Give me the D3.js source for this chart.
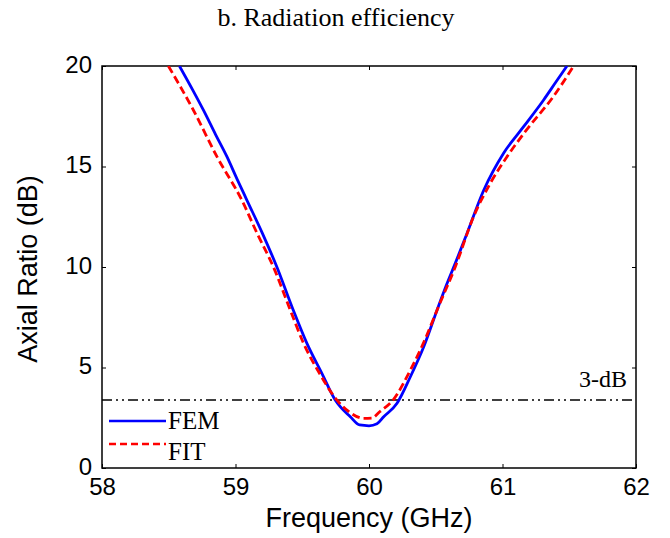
<!DOCTYPE html>
<html>
<head>
<meta charset="utf-8">
<script src="https://cdn.jsdelivr.net/npm/d3@7"></script>
<style>
  body { margin: 0; background: #fff; }
  svg { display: block; }
</style>
</head>
<body>
<svg id="chart" width="670" height="538"></svg>
<script>
// axial ratio readings (GHz, dB)
const femFreq = [58.58, 58.68, 58.76, 58.85, 58.935, 59.01, 59.085, 59.2, 59.31, 59.43, 59.535, 59.647, 59.747, 59.86, 59.93, 60.0, 60.06, 60.11, 60.21, 60.31, 60.41, 60.51, 60.58, 60.646, 60.734, 60.86, 61.008, 61.158, 61.308, 61.4, 61.483];
const femAR   = [20.0, 18.8, 17.8, 16.6, 15.5, 14.4, 13.33, 11.7, 10.0, 7.9, 6.2, 4.71, 3.38, 2.55, 2.14, 2.1, 2.2, 2.55, 3.22, 4.54, 6.03, 7.86, 9.1, 10.18, 11.67, 13.83, 15.66, 16.98, 18.31, 19.2, 20.0];
const fitFreq = [58.497, 58.685, 58.86, 59.047, 59.16, 59.284, 59.41, 59.51, 59.63, 59.76, 59.86, 59.96, 60.02, 60.08, 60.18, 60.31, 60.42, 60.52, 60.646, 60.783, 60.908, 61.034, 61.18, 61.38, 61.533];
const fitAR   = [20.0, 17.8, 15.5, 13.33, 11.7, 10.0, 7.86, 6.2, 4.7, 3.38, 2.75, 2.47, 2.48, 2.8, 3.38, 4.87, 6.4, 8.02, 10.0, 12.5, 14.16, 15.49, 16.82, 18.47, 20.0];
const threshold = 3.38;
const xTicks = [58, 59, 60, 61, 62];
const yTicks = [0, 5, 10, 15, 20];

const svg = d3.select("#chart");
const mLeft = 102, mRight = 636, mTop = 66, mBottom = 468;

const x = d3.scaleLinear().domain([58, 62]).range([mLeft, mRight]);
const y = d3.scaleLinear().domain([0, 20]).range([mBottom, mTop]);

svg.append("defs").append("clipPath").attr("id", "clip")
  .append("rect").attr("x", mLeft).attr("y", mTop).attr("width", mRight - mLeft).attr("height", mBottom - mTop);

// title
const serif = "Liberation Serif, Times New Roman, serif";
svg.append("text").attr("x", 336).attr("y", 26).attr("text-anchor", "middle")
  .style("font-family", serif).style("font-size", "26px")
  .text("b. Radiation efficiency");

// axes (ticks inward, matlab style)
const sans = "Liberation Sans, Arial, sans-serif";
function styleAxis(g) {
  g.select(".domain").remove();
  g.selectAll(".tick line").attr("stroke", "#000").attr("stroke-width", 1);
  g.selectAll(".tick text").style("font-family", sans).style("font-size", "24px").attr("fill", "#000");
}
svg.append("g").attr("transform", `translate(0,${mBottom})`)
  .call(d3.axisBottom(x).tickValues(xTicks).tickSize(-4).tickPadding(10).tickFormat(d3.format("d")))
  .call(styleAxis);
svg.append("g").attr("transform", `translate(0,${mTop})`)
  .call(d3.axisTop(x).tickValues(xTicks).tickSize(-4).tickFormat(""))
  .call(styleAxis);
svg.append("g").attr("transform", `translate(${mLeft},0)`)
  .call(d3.axisLeft(y).tickValues(yTicks).tickSize(-4).tickPadding(10).tickFormat(d3.format("d")))
  .call(styleAxis)
  .call(g => g.selectAll(".tick text").attr("dy", "0.26em"));
svg.append("g").attr("transform", `translate(${mRight},0)`)
  .call(d3.axisRight(y).tickValues(yTicks).tickSize(-4).tickFormat(""))
  .call(styleAxis);

svg.append("rect").attr("x", mLeft).attr("y", mTop).attr("width", mRight - mLeft).attr("height", mBottom - mTop)
  .attr("fill", "none").attr("stroke", "#000").attr("stroke-width", 1.5);

// axis labels
svg.append("text").attr("x", x(60)).attr("y", 527).attr("text-anchor", "middle")
  .style("font-family", sans).style("font-size", "27px").text("Frequency (GHz)");
svg.append("text").attr("transform", `translate(37,269) rotate(-90)`)
  .attr("text-anchor", "middle").style("font-family", sans).style("font-size", "27px")
  .text("Axial Ratio (dB)");

const plot = svg.append("g").attr("clip-path", "url(#clip)");

// 3-dB reference
plot.append("line").attr("x1", mLeft).attr("x2", mRight).attr("y1", y(threshold)).attr("y2", y(threshold))
  .attr("stroke", "#000").attr("stroke-width", 1.5).attr("stroke-dasharray", "10,4,2,4,2,4");
svg.append("text").attr("x", 627).attr("y", 387).attr("text-anchor", "end")
  .style("font-family", serif).style("font-size", "24px").text("3-dB");

const line = d3.line().x(d => x(d[0])).y(d => y(d[1])).curve(d3.curveMonotoneX);
const femData = femFreq.map((f, i) => [f, femAR[i]]);
const fitData = fitFreq.map((f, i) => [f, fitAR[i]]);

plot.append("path").datum(femData).attr("d", line)
  .attr("fill", "none").attr("stroke", "#0000ff").attr("stroke-width", 2.8);
plot.append("path").datum(fitData).attr("d", line)
  .attr("fill", "none").attr("stroke", "#ff0000").attr("stroke-width", 2.8).attr("stroke-dasharray", "8,4");

// legend
const legend = [
  {name: "FEM", color: "#0000ff", dash: null, yy: 421, ty: 429},
  {name: "FIT", color: "#ff0000", dash: "7,4", yy: 444, ty: 460}
];
legend.forEach(l => {
  svg.append("line").attr("x1", 109).attr("x2", 166).attr("y1", l.yy).attr("y2", l.yy)
    .attr("stroke", l.color).attr("stroke-width", 2.5).attr("stroke-dasharray", l.dash);
  svg.append("text").attr("x", 168).attr("y", l.ty)
    .style("font-family", serif).style("font-size", "25px").text(l.name);
});
</script>
</body>
</html>
